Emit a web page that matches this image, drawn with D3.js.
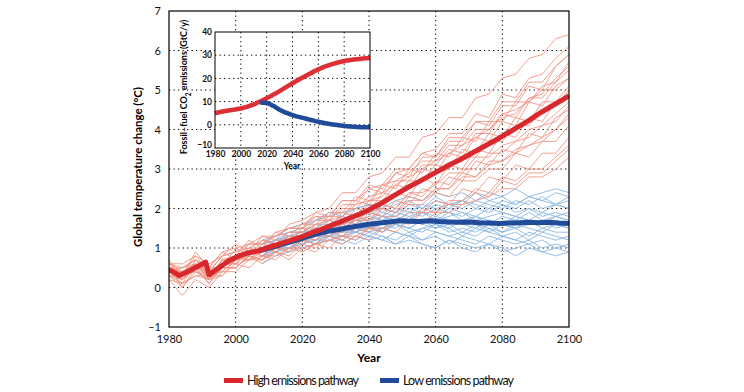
<!DOCTYPE html>
<html><head><meta charset="utf-8">
<script src="https://cdn.jsdelivr.net/npm/d3@7/dist/d3.min.js"></script>
<style>
html,body{margin:0;padding:0;background:#fff;}
svg{display:block;font-family:Lato,"Noto Sans",sans-serif;}
</style></head>
<body><svg id="chart" width="744" height="392"></svg>
<script>
// ---------- DATA ----------
const xTicks = [1980, 2000, 2020, 2040, 2060, 2080, 2100];
const yTicks = [-1, 0, 1, 2, 3, 4, 5, 6, 7];
const yTickLabels = ["\u20131", "0", "1", "2", "3", "4", "5", "6", "7"];
const insetXTicks = [1980, 2000, 2020, 2040, 2060, 2080, 2100];
const insetYTicks = [-10, 0, 10, 20, 30, 40];
const seriesNames = ["High emissions pathway", "Low emissions pathway"];

// ensemble years
const highYears = [1980,1984,1988,1992,1996,2000,2004,2008,2012,2016,2020,2024,2028,2032,2036,2040,2044,2048,2052,2056,2060,2064,2068,2072,2076,2080,2084,2088,2092,2096,2100];
const lowYears = [2008,2012,2016,2020,2024,2028,2032,2036,2040,2044,2048,2052,2056,2060,2064,2068,2072,2076,2080,2084,2088,2092,2096,2100];

const highRuns = [
 [0.6,0.3,0.8,0.4,0.8,0.9,1.1,1.3,1.2,1.6,1.7,1.9,2.0,2.4,2.4,2.8,2.9,3.3,3.3,3.8,3.9,4.3,4.3,4.8,4.9,5.3,5.4,5.8,5.9,6.3,6.4],
 [0.4,0.1,0.6,0.2,0.7,0.8,1.2,1.0,1.4,1.3,1.6,1.8,1.8,2.2,2.2,2.5,2.6,3.0,3.0,3.4,3.5,3.9,3.9,4.4,4.3,4.9,4.8,5.3,5.4,5.8,6.1],
 [0.5,0.5,0.7,0.5,0.9,0.7,1.1,1.1,1.3,1.5,1.5,1.8,1.7,2.1,2.1,2.5,2.4,2.9,2.8,3.3,3.3,3.7,3.7,4.2,4.1,4.6,4.6,5.1,5.0,5.6,5.9],
 [0.3,0.0,0.5,0.1,0.6,0.6,1.0,0.9,1.2,1.1,1.5,1.5,1.8,1.8,2.2,2.1,2.6,2.5,3.0,2.9,3.4,3.3,3.8,3.7,4.2,4.2,4.7,4.7,5.1,5.2,5.7],
 [0.7,0.3,0.5,0.5,0.5,1.0,0.8,1.2,1.1,1.4,1.4,1.6,1.7,1.8,2.1,2.2,2.3,2.7,2.7,3.1,3.1,3.5,3.4,3.9,3.9,4.4,4.3,4.8,4.8,5.2,5.5],
 [0.4,0.4,0.4,0.2,0.3,0.7,0.7,1.0,1.0,1.3,1.2,1.6,1.5,1.9,1.8,2.2,2.2,2.6,2.5,3.0,2.9,3.4,3.3,3.8,3.7,4.2,4.1,4.7,4.6,5.1,5.3],
 [0.2,0.1,0.3,0.3,0.6,0.7,1.0,0.8,1.1,1.1,1.5,1.3,1.7,1.6,2.0,1.9,2.4,2.3,2.7,2.7,3.1,3.0,3.5,3.4,3.9,3.8,4.3,4.2,4.7,4.7,5.1],
 [0.5,0.4,0.6,0.2,0.7,0.6,0.9,1.0,1.0,1.2,1.2,1.5,1.4,1.8,1.6,2.0,2.0,2.4,2.3,2.8,2.6,3.1,3.0,3.5,3.4,3.9,3.8,4.3,4.2,4.7,4.9],
 [0.4,0.2,0.5,0.4,0.4,0.7,0.8,1.0,0.9,1.2,1.2,1.4,1.4,1.6,1.7,1.8,2.1,2.0,2.4,2.4,2.6,2.9,2.9,3.3,3.3,3.6,3.7,4.0,4.1,4.4,4.7],
 [0.6,0.5,0.7,0.3,0.6,0.8,0.7,1.0,0.9,1.2,1.1,1.4,1.3,1.6,1.5,1.9,1.8,2.2,2.1,2.5,2.4,2.8,2.7,3.2,3.1,3.5,3.4,3.9,3.8,4.3,4.5],
 [0.3,0.1,0.3,0.2,0.5,0.5,0.8,0.7,1.0,0.9,1.2,1.1,1.4,1.4,1.6,1.6,2.0,1.9,2.2,2.2,2.5,2.5,2.9,2.8,3.2,3.2,3.5,3.6,3.8,4.0,4.3],
 [0.5,0.3,0.6,0.4,0.6,0.8,0.7,0.9,1.0,1.0,1.2,1.1,1.4,1.3,1.6,1.5,1.8,1.8,2.1,2.1,2.4,2.3,2.7,2.7,3.0,3.0,3.4,3.3,3.7,3.7,4.1],
 [0.4,0.2,0.5,0.1,0.5,0.5,0.8,0.7,0.9,0.8,1.1,1.0,1.3,1.2,1.5,1.4,1.7,1.6,1.9,1.9,2.2,2.1,2.5,2.4,2.8,2.7,3.1,3.0,3.4,3.4,3.8],
 [0.3,0.3,0.4,0.3,0.3,0.6,0.5,0.8,0.7,1.0,0.9,1.1,1.0,1.3,1.2,1.5,1.4,1.7,1.6,1.9,1.9,2.1,2.1,2.4,2.3,2.7,2.6,2.9,2.9,3.2,3.5],
 [0.5,0.0,0.4,0.2,0.5,0.5,0.8,0.6,0.9,0.7,1.0,0.9,1.2,1.1,1.3,1.2,1.5,1.4,1.7,1.6,1.9,1.9,2.1,2.2,2.3,2.5,2.5,2.8,2.8,3.0,3.3],
 [0.6,0.6,0.8,0.6,0.8,1.1,0.9,1.3,1.3,1.5,1.5,1.9,1.8,2.2,2.2,2.6,2.5,2.9,3.0,3.4,3.3,3.8,3.8,4.2,4.2,4.7,4.7,5.2,5.2,5.6,5.9],
 [0.2,-0.2,0.2,0.0,0.4,0.4,0.7,0.7,1.0,0.9,1.3,1.2,1.5,1.4,1.8,1.7,2.1,2.0,2.4,2.3,2.7,2.6,3.0,3.0,3.4,3.4,3.7,3.8,4.1,4.2,4.6],
 [0.5,0.3,0.9,0.5,0.9,1.0,1.1,1.1,1.4,1.5,1.6,1.6,1.9,1.9,2.3,2.2,2.6,2.7,2.9,3.2,3.2,3.6,3.6,4.0,4.0,4.4,4.5,4.7,5.0,5.0,5.3],
 [0.4,0.5,0.6,0.3,0.7,0.8,0.8,1.1,1.0,1.3,1.3,1.4,1.6,1.7,1.8,2.1,2.1,2.4,2.5,2.7,2.9,3.0,3.3,3.3,3.7,3.7,4.1,4.1,4.5,4.6,5.0],
 [0.3,0.2,0.5,0.3,0.4,0.7,0.9,0.8,1.1,1.1,1.3,1.2,1.5,1.5,1.7,1.7,2.0,1.9,2.3,2.2,2.5,2.5,2.8,2.8,3.1,3.2,3.4,3.6,3.7,4.0,4.4],
 [0.6,0.4,0.6,0.3,0.6,0.6,0.7,0.8,0.8,1.0,1.0,1.1,1.2,1.3,1.3,1.5,1.5,1.7,1.7,2.0,1.9,2.2,2.2,2.5,2.4,2.8,2.7,3.0,3.0,3.3,3.6],
 [0.5,0.2,0.7,0.4,0.8,0.9,1.0,1.2,1.1,1.4,1.4,1.7,1.7,2.0,2.0,2.3,2.4,2.6,2.8,3.0,3.2,3.4,3.6,3.8,4.0,4.3,4.4,4.8,4.9,5.3,5.6]
];

const lowRuns = [
 [1.1,1.3,1.4,1.5,1.7,1.8,1.9,2.0,2.1,2.0,2.2,2.3,2.2,2.4,2.3,2.4,2.2,2.4,2.3,2.5,2.3,2.4,2.5,2.4],
 [0.9,1.2,1.3,1.4,1.5,1.7,1.6,1.8,1.9,2.0,1.9,2.1,2.0,2.2,2.1,2.0,2.2,2.1,2.0,2.2,2.1,2.3,2.1,2.2],
 [1.0,1.0,1.2,1.3,1.4,1.4,1.6,1.5,1.7,1.8,1.7,1.9,1.8,2.0,1.9,1.8,2.0,1.9,2.1,1.9,2.0,1.9,2.1,2.0],
 [0.8,1.1,1.1,1.2,1.4,1.5,1.5,1.6,1.6,1.7,1.8,1.7,1.9,1.7,1.8,1.9,1.7,1.8,1.9,1.8,1.7,1.9,1.8,1.9],
 [1.2,1.1,1.3,1.3,1.5,1.4,1.5,1.7,1.6,1.8,1.7,1.7,1.6,1.8,1.7,1.6,1.8,1.7,1.6,1.8,1.7,1.6,1.8,1.7],
 [0.9,1.0,1.2,1.1,1.3,1.4,1.4,1.5,1.5,1.6,1.5,1.7,1.6,1.5,1.7,1.6,1.5,1.7,1.6,1.5,1.6,1.7,1.5,1.6],
 [1.0,1.1,1.1,1.2,1.3,1.3,1.5,1.4,1.6,1.5,1.6,1.5,1.7,1.6,1.5,1.7,1.6,1.4,1.6,1.5,1.7,1.5,1.6,1.5],
 [0.7,0.9,1.0,1.2,1.2,1.4,1.3,1.5,1.4,1.5,1.6,1.4,1.5,1.6,1.4,1.5,1.4,1.6,1.4,1.5,1.3,1.5,1.4,1.4],
 [1.1,1.2,1.3,1.4,1.4,1.6,1.7,1.6,1.8,1.7,1.9,1.8,1.9,1.8,2.0,1.9,1.8,2.0,1.9,1.8,2.0,1.8,1.9,1.8],
 [0.8,0.9,1.1,1.1,1.2,1.3,1.3,1.4,1.3,1.5,1.4,1.3,1.5,1.4,1.3,1.4,1.3,1.5,1.3,1.2,1.4,1.3,1.2,1.3],
 [0.9,1.0,1.0,1.1,1.2,1.2,1.3,1.2,1.4,1.3,1.2,1.4,1.2,1.3,1.1,1.3,1.2,1.1,1.3,1.2,1.1,1.2,1.0,1.1],
 [0.6,0.8,0.9,1.0,1.1,1.2,1.1,1.3,1.2,1.3,1.1,1.2,1.1,1.0,1.2,1.1,1.0,1.1,0.9,1.0,1.1,0.9,1.0,0.9],
 [1.0,1.2,1.2,1.3,1.5,1.5,1.6,1.7,1.7,1.9,1.8,2.0,1.9,2.1,2.0,2.2,2.1,2.0,2.2,2.1,2.3,2.2,2.1,2.3],
 [0.8,1.0,1.1,1.3,1.3,1.3,1.4,1.4,1.5,1.4,1.6,1.5,1.4,1.6,1.5,1.3,1.5,1.4,1.3,1.4,1.2,1.4,1.3,1.2],
 [1.1,1.2,1.4,1.4,1.6,1.6,1.8,1.7,1.9,1.8,2.0,1.9,2.1,2.0,2.1,2.2,2.0,2.2,2.1,2.0,2.2,2.0,2.1,2.0],
 [0.7,0.9,1.1,1.0,1.1,1.2,1.2,1.1,1.3,1.2,1.1,1.3,1.1,1.0,1.2,1.0,0.9,1.1,1.0,0.8,1.0,0.9,0.8,0.9],
 [1.0,1.1,1.3,1.2,1.4,1.5,1.4,1.6,1.5,1.7,1.6,1.8,1.6,1.7,1.9,1.7,1.8,1.6,1.8,1.7,1.9,1.7,1.8,1.7],
 [0.8,1.0,1.0,1.2,1.1,1.3,1.2,1.4,1.3,1.2,1.4,1.3,1.2,1.4,1.3,1.2,1.1,1.3,1.2,1.1,1.2,1.0,1.1,1.0],
 [1.2,1.3,1.5,1.6,1.7,1.9,1.8,2.0,2.1,1.9,2.1,2.2,2.0,2.3,2.1,2.2,2.4,2.2,2.3,2.1,2.3,2.2,2.4,2.3],
 [0.9,1.1,1.2,1.2,1.4,1.3,1.5,1.4,1.6,1.4,1.6,1.5,1.7,1.5,1.6,1.4,1.6,1.5,1.4,1.6,1.5,1.4,1.6,1.5]
];

// ensemble means
const highMeanYears = [1980,1982,1983,1986,1989,1991,1992,1995,1998,2001,2004,2007,2010,2013,2016,2019,2022,2025,2028,2031,2034,2037,2040,2043,2046,2049,2052,2055,2058,2061,2064,2067,2070,2073,2076,2079,2082,2085,2088,2091,2094,2097,2100];
const highMean = [0.45,0.36,0.3,0.42,0.55,0.64,0.32,0.5,0.68,0.8,0.88,0.93,1.02,1.1,1.18,1.26,1.36,1.45,1.55,1.65,1.75,1.85,1.97,2.1,2.25,2.4,2.55,2.68,2.82,2.96,3.1,3.22,3.36,3.5,3.64,3.78,3.93,4.08,4.23,4.4,4.55,4.7,4.85];
const lowMeanYears = [2007,2010,2013,2016,2019,2022,2025,2028,2031,2034,2037,2040,2043,2046,2049,2052,2055,2058,2061,2064,2067,2070,2073,2076,2079,2082,2085,2088,2091,2094,2097,2100];
const lowMean = [0.93,1.0,1.07,1.15,1.22,1.3,1.37,1.43,1.47,1.52,1.56,1.6,1.63,1.66,1.69,1.68,1.67,1.69,1.67,1.66,1.65,1.66,1.64,1.63,1.62,1.63,1.64,1.65,1.64,1.65,1.63,1.62];

// inset: fossil-fuel CO2 emissions (GtC/y)
const emisYearsHigh = [1980,1990,2000,2010,2020,2030,2040,2050,2060,2070,2080,2090,2100];
const emisHigh = [5.0,6.2,7.0,8.8,11.4,14.5,17.9,21.0,23.9,26.0,27.5,28.3,28.8];
const emisYearsLow = [2015,2020,2025,2030,2040,2050,2060,2070,2080,2090,2100];
const emisLow = [9.6,9.4,8.2,6.5,4.2,2.7,1.3,0.2,-0.5,-0.9,-1.1];

// ---------- DRAW ----------
const svg = d3.select("#chart");
const C = {redThin:"#f0907f", blueThin:"#8db8e4", red:"#d9272e", blue:"#1f4b98"};

const x = d3.scaleLinear().domain([1980, 2100]).range([169, 569]);
const y = d3.scaleLinear().domain([-1, 7]).range([327, 11]);

// grid
const grid = svg.append("g").attr("stroke", "#000").attr("stroke-width", 1).attr("stroke-dasharray", "1.3,3.2");
grid.selectAll(".gx").data(xTicks.slice(1, -1)).join("line")
  .attr("x1", d => x(d)).attr("x2", d => x(d)).attr("y1", y(7)).attr("y2", y(-1));
grid.selectAll(".gy").data(yTicks.slice(1, -1)).join("line")
  .attr("x1", x(1980)).attr("x2", x(2100)).attr("y1", d => y(d)).attr("y2", d => y(d));

svg.append("clipPath").attr("id", "clipMain").append("rect")
  .attr("x", x(1980)).attr("y", y(7)).attr("width", x(2100) - x(1980)).attr("height", y(-1) - y(7));
const plot = svg.append("g").attr("clip-path", "url(#clipMain)");

const lineHigh = d3.line().x((d, i) => x(highYears[i])).y(d => y(d));
const lineLow = d3.line().x((d, i) => x(lowYears[i])).y(d => y(d));

plot.append("g").selectAll("path").data(lowRuns).join("path")
  .attr("d", lineLow).attr("fill", "none").attr("stroke", C.blueThin).attr("stroke-width", 1).attr("stroke-opacity", 0.9);
plot.append("g").selectAll("path").data(highRuns).join("path")
  .attr("d", lineHigh).attr("fill", "none").attr("stroke", C.redThin).attr("stroke-width", 1).attr("stroke-opacity", 0.85);

plot.append("path").datum(lowMean)
  .attr("d", d3.line().x((d, i) => x(lowMeanYears[i])).y(d => y(d)))
  .attr("fill", "none").attr("stroke", C.blue).attr("stroke-width", 5).attr("stroke-linejoin", "round");
plot.append("path").datum(highMean)
  .attr("d", d3.line().x((d, i) => x(highMeanYears[i])).y(d => y(d)))
  .attr("fill", "none").attr("stroke", C.red).attr("stroke-width", 5).attr("stroke-linejoin", "round");

// frame
svg.append("rect").attr("x", x(1980)).attr("y", y(7)).attr("width", x(2100) - x(1980)).attr("height", y(-1) - y(7))
  .attr("fill", "none").attr("stroke", "#000").attr("stroke-width", 1.2);

// axes
const ax = svg.append("g").attr("transform", `translate(0,${y(-1)})`)
  .call(d3.axisBottom(x).tickValues(xTicks).tickFormat(d3.format("d")).tickSize(0).tickPadding(8));
ax.select(".domain").remove();
ax.selectAll("text").attr("font-size", 11).attr("font-family", "Lato,sans-serif").attr("fill", "#111");

const ay = svg.append("g").attr("transform", `translate(${x(1980)},0)`)
  .call(d3.axisLeft(y).tickValues(yTicks).tickFormat((d, i) => yTickLabels[i]).tickSize(0).tickPadding(8));
ay.select(".domain").remove();
ay.selectAll("text").attr("font-size", 11).attr("font-family", "Lato,sans-serif").attr("fill", "#111");

svg.append("text").attr("x", 369).attr("y", 362).attr("text-anchor", "middle")
  .attr("font-size", 12).attr("font-weight", "bold").text("Year");
svg.append("text").attr("transform", "translate(142,167) rotate(-90)").attr("text-anchor", "middle")
  .attr("font-size", 12).attr("font-weight", "bold")
  .attr("textLength", 160).attr("lengthAdjust", "spacingAndGlyphs")
  .text("Global temperature change (\u00B0C)");

// legend
const leg = svg.append("g");
const legX = [224, 380];
const legLen = [112, 111];
seriesNames.forEach((n, i) => {
  leg.append("rect").attr("x", legX[i]).attr("y", 378).attr("width", 19).attr("height", 5)
    .attr("fill", i === 0 ? C.red : C.blue);
  leg.append("text").attr("x", legX[i] + 23).attr("y", 384.5).attr("font-size", 12.5).attr("fill", "#111")
    .attr("textLength", legLen[i]).attr("lengthAdjust", "spacing").text(n);
});

// ---------- INSET ----------
const ix = d3.scaleLinear().domain([1980, 2100]).range([215, 370]);
const iy = d3.scaleLinear().domain([-10, 40]).range([148, 32]);
svg.append("rect").attr("x", ix(1980)).attr("y", iy(40)).attr("width", ix(2100) - ix(1980)).attr("height", iy(-10) - iy(40))
  .attr("fill", "#fff");
const ig = svg.append("g").attr("stroke", "#000").attr("stroke-width", 1).attr("stroke-dasharray", "1.3,3.2");
ig.selectAll(".a").data(insetXTicks.slice(1, -1)).join("line")
  .attr("x1", d => ix(d)).attr("x2", d => ix(d)).attr("y1", iy(40)).attr("y2", iy(-10));
ig.selectAll(".b").data(insetYTicks.slice(1, -1)).join("line")
  .attr("x1", ix(1980)).attr("x2", ix(2100)).attr("y1", d => iy(d)).attr("y2", d => iy(d));

svg.append("path").datum(emisHigh)
  .attr("d", d3.line().curve(d3.curveMonotoneX).x((d, i) => ix(emisYearsHigh[i])).y(d => iy(d)))
  .attr("fill", "none").attr("stroke", "#dd2f35").attr("stroke-width", 4.5);
svg.append("path").datum(emisLow)
  .attr("d", d3.line().curve(d3.curveMonotoneX).x((d, i) => ix(emisYearsLow[i])).y(d => iy(d)))
  .attr("fill", "none").attr("stroke", C.blue).attr("stroke-width", 4.5);

svg.append("rect").attr("x", ix(1980)).attr("y", iy(40)).attr("width", ix(2100) - ix(1980)).attr("height", iy(-10) - iy(40))
  .attr("fill", "none").attr("stroke", "#000").attr("stroke-width", 1);

const iax = svg.append("g").attr("transform", `translate(0,${iy(-10)})`)
  .call(d3.axisBottom(ix).tickValues(insetXTicks).tickFormat(d3.format("d")).tickSize(0).tickPadding(3));
iax.select(".domain").remove();
iax.selectAll("text").attr("font-size", 8.5).attr("font-weight", "bold").attr("font-family", "Lato,sans-serif").attr("fill", "#111");
const iay = svg.append("g").attr("transform", `translate(${ix(1980)},0)`)
  .call(d3.axisLeft(iy).tickValues(insetYTicks).tickFormat(d => d < 0 ? "\u2212" + Math.abs(d) : d).tickSize(0).tickPadding(3));
iay.select(".domain").remove();
iay.selectAll("text").attr("font-size", 8.5).attr("font-weight", "bold").attr("font-family", "Lato,sans-serif").attr("fill", "#111");
iay.selectAll("text").filter(d => d < 0).attr("dy", "-0.05em");

svg.append("text").attr("x", 292).attr("y", 168.5).attr("text-anchor", "middle")
  .attr("font-size", 8.5).attr("font-weight", "bold").text("Year");
const yl = svg.append("text").attr("transform", "translate(187,87) rotate(-90)").attr("text-anchor", "middle")
  .attr("font-size", 9).attr("font-weight", "bold");
yl.append("tspan").text("Fossil\u2013fuel CO");
yl.append("tspan").attr("baseline-shift", "sub").attr("font-size", 6.5).text("2");
yl.append("tspan").text(" emissions (GtC/y)");
</script>
</body></html>
